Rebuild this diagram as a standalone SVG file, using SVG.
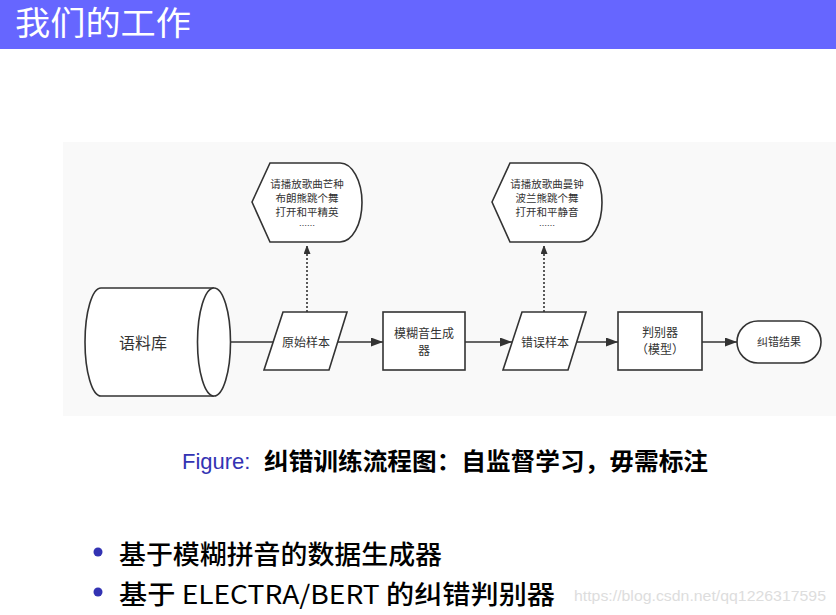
<svg xmlns="http://www.w3.org/2000/svg" width="836" height="615" viewBox="0 0 836 615">
<style>
.cjk{font-family:"Noto Sans CJK SC","Noto Sans",sans-serif}
.shape{fill:#ffffff;stroke:#333333;stroke-width:1.6}
.lbl{font-family:"Noto Sans CJK SC","Noto Sans",sans-serif;fill:#333333;text-anchor:middle}
.conn{stroke:#333333;stroke-width:1.6;fill:none}
.dot{stroke:#333333;stroke-width:1.6;fill:none;stroke-dasharray:2 2}
</style>
<defs>
<marker id="arr" markerWidth="13" markerHeight="10" refX="12" refY="4.5" orient="auto" markerUnits="userSpaceOnUse">
<path d="M0,0 L12,4.5 L0,9 Z" fill="#333333"/>
</marker>
<marker id="arrs" markerWidth="8" markerHeight="8" refX="9" refY="3.5" orient="auto" markerUnits="userSpaceOnUse">
<path d="M0,0 L9,3.5 L0,7 Z" fill="#333333"/>
</marker>
</defs>
<rect x="0" y="0" width="836" height="615" fill="#ffffff"/>
<rect x="0" y="0" width="836" height="49" fill="#6666FF"/>
<text x="15" y="35" class="cjk" font-size="33" fill="#ffffff" textLength="176" lengthAdjust="spacingAndGlyphs">我们的工作</text>
<rect x="63" y="142" width="773" height="274" fill="#f9f9f9"/>
<g id="connectors">
<line class="conn" x1="231" y1="342" x2="274" y2="342"/>
<line class="conn" x1="337" y1="342" x2="383" y2="342" marker-end="url(#arr)"/>
<line class="conn" x1="465" y1="342" x2="512" y2="342" marker-end="url(#arr)"/>
<line class="conn" x1="576" y1="342" x2="618" y2="342" marker-end="url(#arr)"/>
<line class="conn" x1="702" y1="342" x2="737" y2="342" marker-end="url(#arr)"/>
<line class="dot" x1="307" y1="312" x2="307" y2="245" marker-end="url(#arrs)"/>
<line class="dot" x1="544" y1="312" x2="544" y2="245" marker-end="url(#arrs)"/>
</g>
<g id="corpus">
<path class="shape" d="M101,288 L214,288 A16.5,54 0 0 1 214,396 L101,396 A16,54 0 0 1 101,288 Z"/>
<path class="shape" fill="none" d="M214,288 A16.5,54 0 0 0 214,396"/>
<text class="lbl" x="143" y="349" font-size="16">语料库</text>
</g>
<g id="orig-sample">
<path class="shape" d="M283,312 L347,312 L329,370 L264,370 Z"/>
<text class="lbl" x="306" y="347" font-size="12">原始样本</text>
</g>
<g id="orig-examples">
<path class="shape" d="M252,202 L270,163 L340,163 A22,39.5 0 0 1 340,242 L270,242 Z"/>
<text class="lbl" x="307" y="188" font-size="10.5">请播放歌曲芒种</text>
<text class="lbl" x="307" y="202" font-size="10.5">布朗熊跳个舞</text>
<text class="lbl" x="307" y="216" font-size="10.5">打开和平精英</text>
<text class="lbl" x="307" y="229" font-size="8">……</text>
</g>
<g id="generator">
<rect class="shape" x="383" y="312" width="82" height="58"/>
<text class="lbl" x="424" y="338" font-size="12">模糊音生成</text>
<text class="lbl" x="424" y="355" font-size="12">器</text>
</g>
<g id="err-sample">
<path class="shape" d="M522,312 L586,312 L568,370 L503,370 Z"/>
<text class="lbl" x="545" y="347" font-size="12">错误样本</text>
</g>
<g id="err-examples">
<path class="shape" d="M492,202 L510,163 L580,163 A22,39.5 0 0 1 580,242 L510,242 Z"/>
<text class="lbl" x="547" y="188" font-size="10.5">请播放歌曲曼钟</text>
<text class="lbl" x="547" y="202" font-size="10.5">波兰熊跳个舞</text>
<text class="lbl" x="547" y="216" font-size="10.5">打开和平静音</text>
<text class="lbl" x="547" y="229" font-size="8">……</text>
</g>
<g id="discriminator">
<rect class="shape" x="618" y="312" width="84" height="58"/>
<text class="lbl" x="660" y="337" font-size="12">判别器</text>
<text class="lbl" x="660" y="354" font-size="12">（模型）</text>
</g>
<g id="result">
<rect class="shape" x="737" y="321" width="84" height="42" rx="21" ry="21"/>
<text class="lbl" x="779" y="346" font-size="11">纠错结果</text>
</g>
<text x="182" y="469" font-family="'Liberation Sans',Arial,sans-serif" font-size="22" fill="#3333B3">Figure:</text>
<text x="264" y="470" class="cjk" font-size="24" font-weight="bold" fill="#000000" textLength="444" lengthAdjust="spacingAndGlyphs">纠错训练流程图：自监督学习，毋需标注</text>
<circle cx="98" cy="552" r="4.5" fill="#3333B3"/>
<circle cx="98" cy="592" r="4.5" fill="#3333B3"/>
<text x="119" y="564" class="cjk" font-size="26" font-weight="500" fill="#000000" textLength="323" lengthAdjust="spacingAndGlyphs">基于模糊拼音的数据生成器</text>
<text x="119" y="604" class="cjk" font-size="26" font-weight="500" fill="#000000" textLength="436" lengthAdjust="spacingAndGlyphs">基于 <tspan font-weight="normal">ELECTRA/BERT</tspan> 的纠错判别器</text>
<text x="574" y="601" font-family="'Liberation Sans',Arial,sans-serif" font-size="14" fill="#dddddd" textLength="252" lengthAdjust="spacingAndGlyphs">https://blog.csdn.net/qq1226317595</text>
</svg>
